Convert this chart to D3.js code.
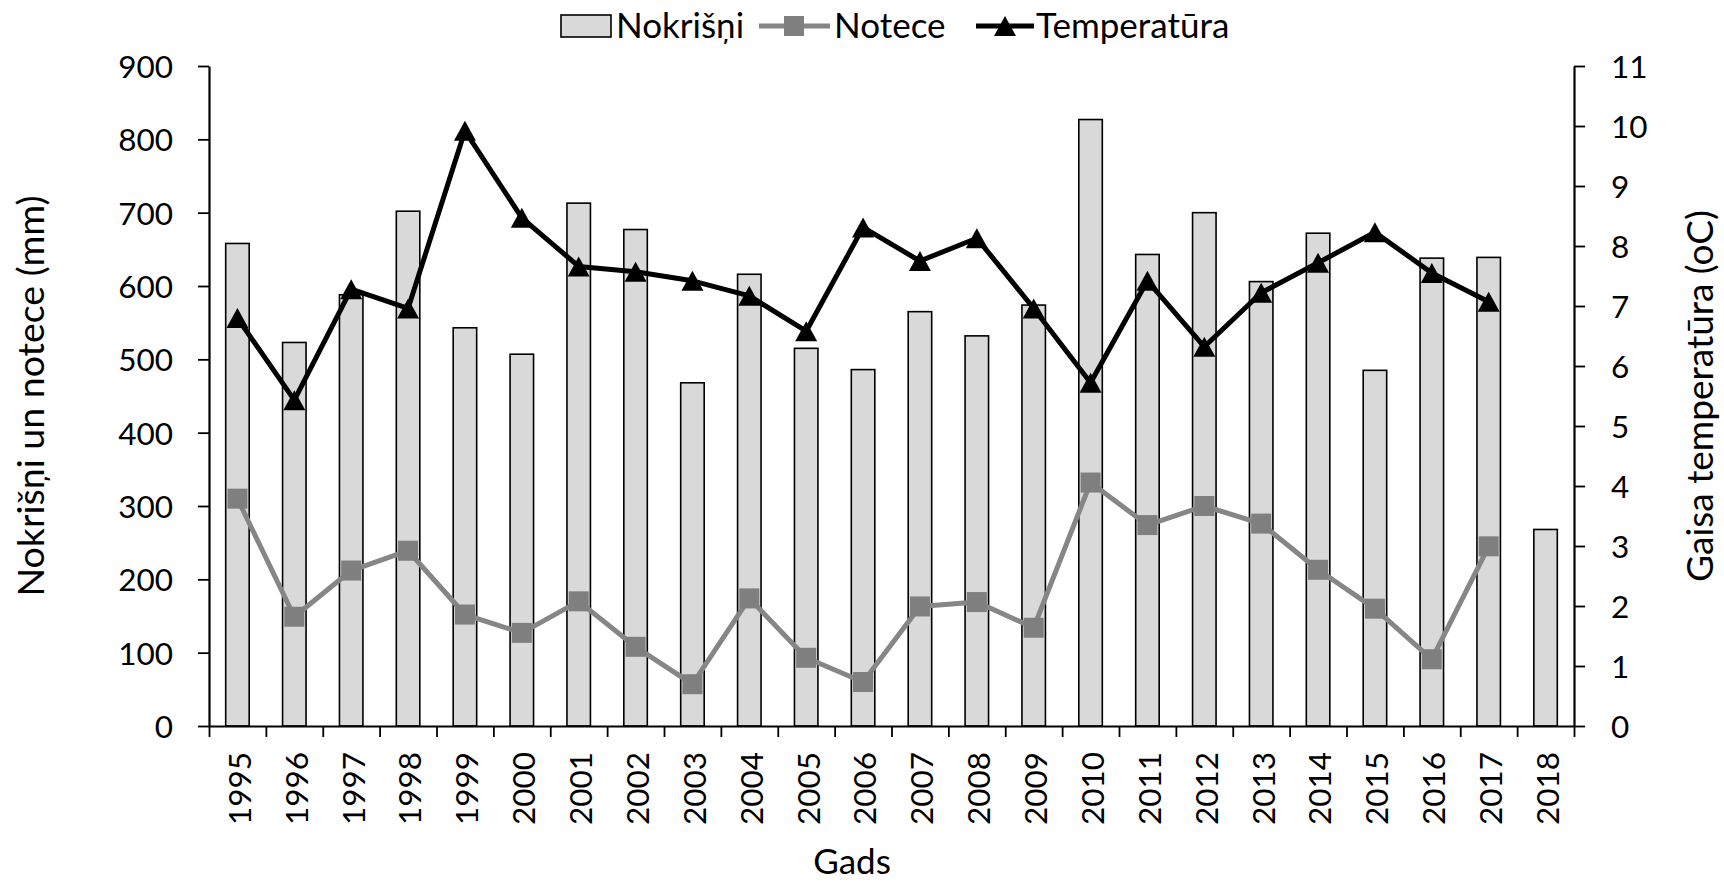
<!DOCTYPE html>
<html>
<head>
<meta charset="utf-8">
<script src="https://cdn.jsdelivr.net/npm/d3@7"></script>
<style>
  html, body { margin: 0; padding: 0; background: #fff; }
  svg { display: block; }
  .tick text { font-family: Lato, "Open Sans", sans-serif; font-size: 31.5px; fill: #000; }
  .ttl { font-family: Lato, "Open Sans", sans-serif; fill: #000; }
</style>
</head>
<body>
<svg id="chart" width="1724" height="883"></svg>
<script>
const years = ["1995","1996","1997","1998","1999","2000","2001","2002","2003","2004","2005","2006",
               "2007","2008","2009","2010","2011","2012","2013","2014","2015","2016","2017","2018"];
const nokrisni = [658,523,588,702,543,507,713,677,468,616,515,486,565,532,574,827,643,700,606,672,485,638,639,268];
const notece = [310,149,212,239,152,127,170,108,57,174,93,60,163,169,134,332,274,300,276,213,160,91,245,null];
const temperatura = [6.8,5.43,7.28,6.96,9.92,8.47,7.66,7.57,7.42,7.17,6.58,8.31,7.75,8.13,6.96,5.72,7.42,6.32,7.22,7.72,8.23,7.55,7.07,null];
const leftTicks = [0,100,200,300,400,500,600,700,800,900];
const rightTicks = [0,1,2,3,4,5,6,7,8,9,10,11];
const seriesNames = ["Nokrišņi","Notece","Temperatūra"];
const axisTitles = {left: "Nokrišņi un notece (mm)", right: "Gaisa temperatūra (oC)", bottom: "Gads"};

const svg = d3.select("#chart");
const M = {left: 209, right: 1574, top: 66, bottom: 726};

const x = d3.scaleBand().domain(years).range([M.left, M.right]).paddingInner(0).paddingOuter(0);
const xb = d3.scaleLinear().domain([0, years.length]).range([M.left, M.right]);
const yL = d3.scaleLinear().domain([0, 900]).range([M.bottom, M.top]);
const yR = d3.scaleLinear().domain([0, 11]).range([M.bottom, M.top]);

const barW = x.bandwidth() * 0.413;
const cx = d => x(d) + x.bandwidth() / 2;

// bars
svg.append("g").selectAll("rect").data(years.map((y, i) => ({y, v: nokrisni[i]})))
  .join("rect")
  .attr("x", d => cx(d.y) - barW / 2)
  .attr("y", d => yL(d.v))
  .attr("width", barW)
  .attr("height", d => yL(0) - yL(d.v))
  .attr("fill", "#d9d9d9").attr("stroke", "#000").attr("stroke-width", 1.6);

// Notece line
const notData = years.map((y, i) => ({y, v: notece[i]})).filter(d => d.v != null);
svg.append("path").datum(notData)
  .attr("d", d3.line().x(d => cx(d.y)).y(d => yL(d.v)))
  .attr("fill", "none").attr("stroke", "#868686").attr("stroke-width", 5).attr("stroke-linejoin", "round");
const sq = 20;
svg.append("g").selectAll("rect").data(notData).join("rect")
  .attr("x", d => cx(d.y) - sq / 2).attr("y", d => yL(d.v) - sq / 2)
  .attr("width", sq).attr("height", sq).attr("fill", "#7f7f7f");

// Temperature line
const tData = years.map((y, i) => ({y, v: temperatura[i]})).filter(d => d.v != null);
svg.append("path").datum(tData)
  .attr("d", d3.line().x(d => cx(d.y)).y(d => yR(d.v)))
  .attr("fill", "none").attr("stroke", "#000").attr("stroke-width", 5).attr("stroke-linejoin", "round");
const triW = 22, triH = 20;
const tri = `M0,${-triH/2}L${triW/2},${triH/2}L${-triW/2},${triH/2}Z`;
svg.append("g").selectAll("path").data(tData).join("path")
  .attr("transform", d => `translate(${cx(d.y)},${yR(d.v)})`)
  .attr("d", tri).attr("fill", "#000");

// axes
const gL = svg.append("g").attr("transform", `translate(${M.left},0)`)
  .call(d3.axisLeft(yL).tickValues(leftTicks).tickSize(11).tickPadding(25).tickSizeOuter(0));
const gR = svg.append("g").attr("transform", `translate(${M.right},0)`)
  .call(d3.axisRight(yR).tickValues(rightTicks).tickSize(11).tickPadding(26).tickSizeOuter(0));
const gB = svg.append("g").attr("transform", `translate(0,${M.bottom})`)
  .call(d3.axisBottom(xb).tickValues(d3.range(0, years.length + 1)).tickFormat("").tickSize(11).tickSizeOuter(0));
const gBL = svg.append("g").attr("transform", `translate(0,${M.bottom})`)
  .call(d3.axisBottom(x).tickSize(0).tickSizeOuter(0));
gBL.select(".domain").remove();
gBL.selectAll(".tick text")
  .attr("transform", "rotate(-90)")
  .attr("x", -26).attr("y", 2).attr("dy", "0.36em")
  .style("text-anchor", "end");
[gL, gR, gB].forEach(g => {
  g.select(".domain").attr("stroke", "#000").attr("stroke-width", 2.2);
  g.selectAll(".tick line").attr("stroke", "#000").attr("stroke-width", 1.8);
});
gL.selectAll(".tick text").attr("dy", "0.36em");
gR.selectAll(".tick text").attr("dy", "0.36em");

// axis titles
svg.append("text").attr("class", "ttl")
  .attr("transform", `translate(31,${(M.top + M.bottom) / 2}) rotate(-90)`)
  .attr("text-anchor", "middle").attr("dy", "0.35em").style("font-size", "37.5px")
  .text(axisTitles.left);
svg.append("text").attr("class", "ttl")
  .attr("transform", `translate(1700,${(M.top + M.bottom) / 2}) rotate(-90)`)
  .attr("text-anchor", "middle").attr("dy", "0.35em").style("font-size", "37px")
  .text(axisTitles.right);
svg.append("text").attr("class", "ttl")
  .attr("x", 852).attr("y", 874)
  .attr("text-anchor", "middle").style("font-size", "35px")
  .text(axisTitles.bottom);

// legend
const lg = svg.append("g");
const ly = 26;
lg.append("rect").attr("x", 561).attr("y", ly - 11).attr("width", 50).attr("height", 22)
  .attr("fill", "#d9d9d9").attr("stroke", "#000").attr("stroke-width", 1.6);
lg.append("text").attr("class", "ttl").attr("x", 616).attr("y", ly).attr("dy", "0.35em")
  .style("font-size", "35px").text(seriesNames[0]);
lg.append("line").attr("x1", 759).attr("x2", 830).attr("y1", ly).attr("y2", ly)
  .attr("stroke", "#868686").attr("stroke-width", 5);
lg.append("rect").attr("x", 794 - sq / 2).attr("y", ly - sq / 2).attr("width", sq).attr("height", sq).attr("fill", "#7f7f7f");
lg.append("text").attr("class", "ttl").attr("x", 834).attr("y", ly).attr("dy", "0.35em")
  .style("font-size", "35px").text(seriesNames[1]);
lg.append("line").attr("x1", 976).attr("x2", 1034).attr("y1", ly).attr("y2", ly)
  .attr("stroke", "#000").attr("stroke-width", 5);
lg.append("path").attr("transform", `translate(1005,${ly})`).attr("d", tri).attr("fill", "#000");
lg.append("text").attr("class", "ttl").attr("x", 1036).attr("y", ly).attr("dy", "0.35em")
  .style("font-size", "35px").text(seriesNames[2]);
</script>
</body>
</html>
